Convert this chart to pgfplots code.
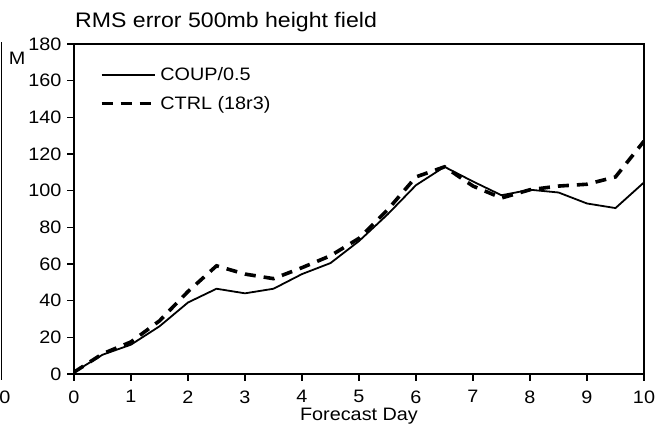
\documentclass[border=0pt]{standalone}
\usepackage{pgfplots}
\pgfplotsset{compat=1.18}
\usepackage{fontspec}
\setmainfont{Liberation Sans}[FakeStretch=1.1]
\begin{document}
\begin{tikzpicture}
\useasboundingbox (0pt,0pt) rectangle (667pt,427pt);
\begin{axis}[
  at={(74pt,53pt)}, anchor=south west,
  scale only axis, width=570pt, height=330pt,
  xmin=0, xmax=10, ymin=0, ymax=180,
  xtick={0,1,...,10}, ytick={0,20,...,180},
  tick pos=left, tick align=outside,
  major tick length=7pt,
  axis line style={line width=1.3pt},
  every tick/.style={black, line width=1.1pt},
  /pgf/number format/assume math mode=true,
  ticklabel style={font=\fontsize{18}{21}\selectfont},
  xticklabel style={yshift=-6pt},
  yticklabel style={xshift=-2pt},
  xlabel={Forecast Day},
  xlabel style={font=\fontsize{18}{21}\selectfont, at={(axis description cs:0.5,0)}, anchor=base, yshift=-47pt, inner sep=0pt},
  legend style={draw=none, fill=none, at={(0.045,0.935)}, anchor=north west,
    font=\fontsize{18}{21}\selectfont, row sep=10pt, inner sep=0pt,
    nodes={inner xsep=4pt}},
  legend cell align=left,
  legend image code/.code={\draw[#1] (0pt,0pt) -- (53pt,0pt);},
]
\addplot[black, line width=1.8pt] coordinates {
(0,1) (0.5,10.5) (1,16) (1.5,26) (2,39) (2.5,46.5) (3,44) (3.5,46.5) (4,54.5) (4.5,60.5) (5,72.5) (5.5,87) (6,103) (6.5,113) (7,105) (7.5,97.5) (8,100.5) (8.5,99) (9,93) (9.5,90.5) (10,104.5)
};
\addlegendentry{COUP/0.5}
\addplot[black, line width=3.6pt, dash pattern=on 11pt off 8pt] coordinates {
(0,1) (0.5,11) (1,17.5) (1.5,29) (2,45) (2.5,59) (3,54.5) (3.5,52) (4,58) (4.5,64.5) (5,74) (5.5,89.5) (6,107.5) (6.5,113) (7,102.5) (7.5,96) (8,100.5) (8.5,102.5) (9,103.5) (9.5,107.5) (10,127)
};
\addlegendentry{CTRL (18r3)}
\end{axis}
\node[anchor=base west, font=\fontsize{21}{24}\selectfont, inner sep=0pt] at (75pt,399pt) {RMS error 500mb height field};
\node[font=\fontsize{18}{21}\selectfont, inner sep=0pt] at (17pt,369pt) {M};
\draw[line width=1.2pt] (1.5pt,47pt) -- (1.5pt,385pt);
\node[font=\fontsize{18}{21}\selectfont, inner sep=0pt] at (5pt,30pt) {0};
\end{tikzpicture}
\end{document}
